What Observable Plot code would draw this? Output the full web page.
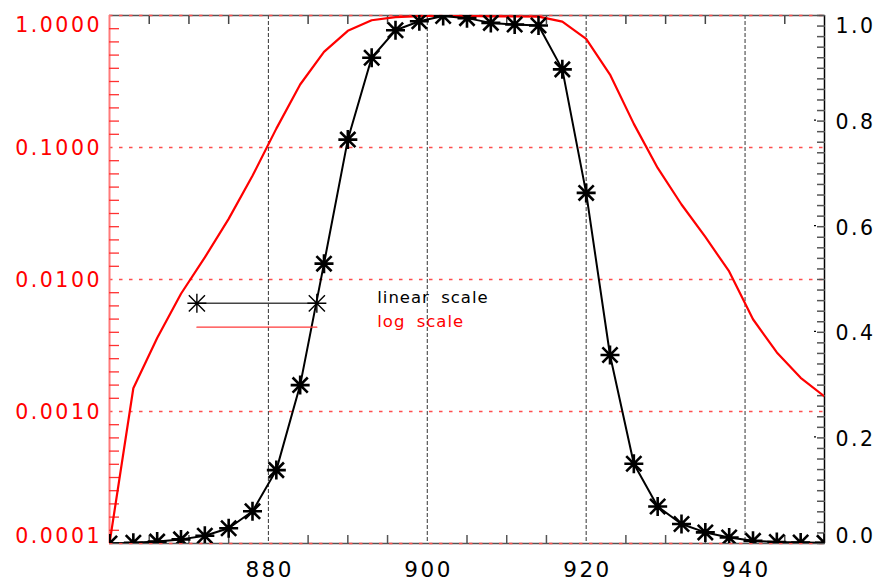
<!DOCTYPE html>
<html><head><meta charset="utf-8">
<script src="https://cdn.jsdelivr.net/npm/d3@7"></script>
<script src="https://cdn.jsdelivr.net/npm/@observablehq/plot@0.6"></script>
<style>
html,body{margin:0;padding:0;background:#fff;}
#chart svg text{font-family:"DejaVu Sans",sans-serif;}
</style></head><body><div id="chart"></div>
<script>
// ---- data ----
const wavelength = [860,863,866,869,872,875,878,881,884,887,890,893,896,899,902,905,908,911,914,917,920,923,926,929,932,935,938,941,944,947,950];
const response = [0.0001,0.0015,0.0036,0.0078,0.0147,0.0288,0.061,0.139,0.300,0.530,0.765,0.920,0.972,0.989,0.999,0.995,0.986,0.983,0.981,0.898,0.664,0.357,0.151,0.070,0.037,0.021,0.0115,0.0050,0.0028,0.0018,0.0013];
const xMajorTicks = [880,900,920,940];
const xMinorTicks = [865,870,875,885,890,895,905,910,915,925,930,935,945];
const logTicks = [1,0.1,0.01,0.001,0.0001];
const logTickLabels = ["1.0000","0.1000","0.0100","0.0010","0.0001"];
const linTicks = [0,0.2,0.4,0.6,0.8,1.0];
const linTickLabels = ["0.0","0.2","0.4","0.6","0.8","1.0"];
const legendLabels = ["linear scale","log scale"];
const legendColors = ["black","red"];

const data = wavelength.map((w,i)=>({w, v: response[i]}));

// linear (right axis) values mapped onto the shared log y scale (4 decades)
const lin2log = v => Math.pow(10, 4*(v-1));

// log-axis minor ticks (IDL style: evenly spaced within a decade)
const logMinor = [];
for (let k=-4;k<0;k++) for (let j=1;j<10;j++) logMinor.push(Math.pow(10,k+j/10));
const linMinor = d3.range(0,1.0001,0.02).map(lin2log);

const asterisk = (ratio) => ({draw(ctx,size){
  const r=Math.sqrt(size/Math.PI), d=r*ratio;
  ctx.moveTo(-r,0);ctx.lineTo(r,0);
  ctx.moveTo(0,-r);ctx.lineTo(0,r);
  ctx.moveTo(-d,-d);ctx.lineTo(d,d);
  ctx.moveTo(-d,d);ctx.lineTo(d,-d);
}});

// legend placement (data units)
const legX = [871, 886.1];
const legTextX = 893.7;
const legY = [0.0066, 0.00435];
const legLine = legX.map(x=>({x,y:legY[0]}));
const legLineRed = legX.map(x=>({x,y:legY[1]}));

// label vertical nudges (IDL keeps end labels inside the frame)
const logLab = logTicks.map((t,i)=>({y:t, label:logTickLabels[i], dy: i===0 ? 10 : i===logTicks.length-1 ? -7.5 : 0.5}));
const linLab = linTicks.map((t,i)=>({y:lin2log(t), label:linTickLabels[i], dy: i===0 ? -7.5 : i===linTicks.length-1 ? 10.5 : 1.5}));

const textMarks = (arr, opts) => arr.map(d => Plot.text([d], {y:"y", text:"label", dy:d.dy, className:"ticklab", ...opts}));

const chart = Plot.plot({
  width:875, height:582,
  marginLeft:109, marginRight:51, marginTop:15, marginBottom:39,
  style:{background:"#fff", fontFamily:"DejaVu Sans, sans-serif", overflow:"visible"},
  x:{domain:[860,950], axis:null},
  y:{type:"log", domain:[1e-4,1], axis:null},
  marks:[
    // vertical dashed grid
    Plot.ruleX(xMajorTicks, {stroke:"#333", strokeDasharray:"4,2", strokeWidth:1}),
    // frame top/bottom
    Plot.ruleY([1e-4,1], {stroke:"#555", strokeWidth:1.6}),
    // red dotted log grid
    Plot.ruleY(logTicks, {stroke:"#ff4d4d", strokeDasharray:"3.5,6.5", strokeWidth:1.4}),
    // x minor ticks (bottom & top, inward)
    Plot.axisX(xMinorTicks, {anchor:"bottom", tickSize:8, dy:-8, tickFormat:()=>"", stroke:"#555", strokeWidth:1.5, label:null}),
    Plot.axisX(xMinorTicks, {anchor:"top", tickSize:8, dy:8, tickFormat:()=>"", stroke:"#444", strokeWidth:1.5, label:null}),
    // x labels
    Plot.text(xMajorTicks, {x:d=>d, text:d=>String(d), frameAnchor:"bottom", lineAnchor:"bottom", dy:33, dx:1.3, fontSize:21.5, fill:"black", className:"ticklab"}),
    // left (log) axis
    Plot.ruleX([860], {stroke:"#ff7a7a", strokeWidth:2}),
    Plot.axisY(logMinor, {anchor:"left", tickSize:10, dx:10, tickFormat:()=>"", stroke:"#ff3030", strokeWidth:1.3, label:null}),
    ...textMarks(logLab, {frameAnchor:"left", textAnchor:"end", dx:-7.5, fill:"red", fontSize:20.5}),
    // right (linear) axis
    Plot.ruleX([950], {stroke:"black", strokeWidth:1.5}),
    Plot.axisY(linMinor, {anchor:"right", tickSize:8, dx:-8, tickFormat:()=>"", stroke:"#555", strokeWidth:1.5, label:null}),
    Plot.axisY(linTicks.slice(1,-1).map(lin2log), {anchor:"right", tickSize:2, dx:-11, dy:-1, tickFormat:()=>"", stroke:"black", strokeWidth:1.2, label:null}),
    ...textMarks(linLab, {frameAnchor:"right", textAnchor:"start", dx:11, fill:"black", fontSize:20.5}),
    // series
    Plot.line(data, {x:"w", y:"v", stroke:"red", strokeWidth:2.2, clip:true}),
    Plot.line(data, {x:"w", y:d=>lin2log(d.v), stroke:"black", strokeWidth:2, clip:true}),
    Plot.dot(data, {x:"w", y:d=>lin2log(d.v), symbol:asterisk(0.8), r:9.5, fill:"none", stroke:"black", strokeWidth:2.6, clip:true}),
    // legend
    Plot.line(legLine, {x:"x", y:"y", stroke:"#444", strokeWidth:1.4}),
    Plot.dot(legLine, {x:"x", y:"y", symbol:asterisk(0.85), r:9.5, fill:"none", stroke:"black", strokeWidth:1.4}),
    Plot.line(legLineRed, {x:"x", y:"y", stroke:"#ff3a3a", strokeWidth:1.2}),
    Plot.text(legendLabels, {x:()=>legTextX, y:(d,i)=>legY[i], text:d=>d, fill:(d,i)=>legendColors[i], textAnchor:"start", lineAnchor:"bottom", fontSize:16.5, className:"legtext"})
  ]
});
// letter spacing (IDL-like wide type)
d3.select(chart).selectAll(".ticklab text, text.ticklab").style("letter-spacing","2.5px");
d3.select(chart).selectAll(".legtext text, text.legtext").style("letter-spacing","1px").style("word-spacing","5px");
document.getElementById("chart").append(chart);
</script></body></html>
